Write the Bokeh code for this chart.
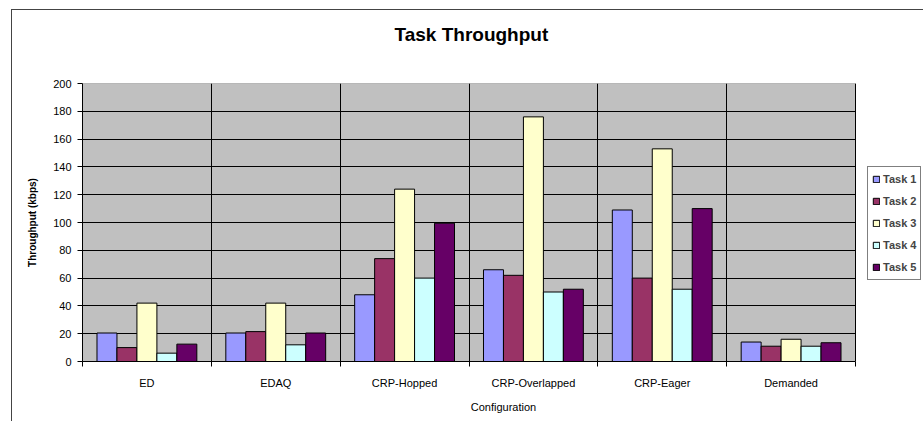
from bokeh.plotting import figure
from bokeh.models import ColumnDataSource, FixedTicker, Legend, LegendItem, Range1d, Title
from bokeh.transform import dodge
from bokeh.embed import file_html
from bokeh.resources import INLINE

categories = ["ED", "EDAQ", "CRP-Hopped", "CRP-Overlapped", "CRP-Eager", "Demanded"]
task1 = [20.5, 20.5, 48, 66, 109, 14]
task2 = [10, 21.5, 74, 62, 60, 11]
task3 = [42, 42, 124, 176, 153, 16]
task4 = [6, 12, 60, 50, 52, 11]
task5 = [12.5, 20.5, 99.5, 52, 110, 13.5]
series_names = ["Task 1", "Task 2", "Task 3", "Task 4", "Task 5"]
series_values = [task1, task2, task3, task4, task5]
colors = ["#9999FF", "#993366", "#FFFFCC", "#CCFFFF", "#660066"]
y_ticks = list(range(0, 201, 20))

FONT = "Liberation Sans"
n = len(categories)
centers = [i + 0.5 for i in range(n)]
bounds = [i for i in range(n + 1)]

# layout (pixels): gray plot area is 773 px wide, frame runs on to the right edge
FIG_W, FIG_H = 912, 412
LEFT, TOP, BOTTOM = 70, 73, 61
PLOT_W = 773
frame_w = FIG_W - LEFT
x_end = n * frame_w / PLOT_W

data = {"x": centers}
for name, vals in zip(series_names, series_values):
    data[name] = vals
source = ColumnDataSource(data)

p = figure(width=FIG_W, height=FIG_H, x_range=Range1d(0, x_end), y_range=Range1d(0, 200),
           output_backend="svg", toolbar_location=None,
           min_border_left=LEFT, min_border_right=0, min_border_top=TOP, min_border_bottom=BOTTOM,
           background_fill_color="white", title="Task Throughput")
p.margin = (9, 0, 0, 11)
p.styles = {"border-left": "1px solid #444444", "border-top": "1px solid #444444"}
p.outline_line_color = None

p.title.align = "left"
p.title.offset = 312
p.title.text_font = FONT
p.title.text_font_size = "19px"
p.title.text_font_style = "bold"
p.title.text_color = "black"
p.title.standoff = 10
p.add_layout(Title(text=" ", text_font_size="12px", standoff=18), "above")

# gray plot area
p.quad(left=0, right=n, bottom=0, top=200, fill_color="#C0C0C0", line_color="#808080",
       level="image")

bw = 0.155
items = []
for k, (name, col) in enumerate(zip(series_names, colors)):
    off = (k - 2) * bw
    r = p.vbar(x=dodge("x", off, range=p.x_range), top=name, width=bw, source=source,
               fill_color=col, line_color="black", line_width=1)
    items.append(LegendItem(label=name, renderers=[r]))

p.xaxis.ticker = FixedTicker(ticks=centers, minor_ticks=bounds)
p.xaxis.bounds = (0, n)
p.xaxis.major_label_overrides = {c: lab for c, lab in zip(centers, categories)}
p.xaxis.major_tick_out = 0
p.xaxis.major_tick_in = 0
p.xaxis.minor_tick_out = 5
p.xaxis.minor_tick_in = 0
p.xaxis.minor_tick_line_color = "black"
p.xaxis.axis_line_color = "black"
p.xaxis.major_label_standoff = 10
p.xaxis.axis_label = "Configuration"
p.xaxis.axis_label_standoff = 9

p.yaxis.ticker = FixedTicker(ticks=y_ticks)
p.yaxis.major_tick_out = 5
p.yaxis.major_tick_in = 0
p.yaxis.major_label_standoff = 6
p.yaxis.axis_label = "Throughput (kbps)"
p.yaxis.axis_label_standoff = 12

for ax in [p.xaxis[0], p.yaxis[0]]:
    ax.major_label_text_font = FONT
    ax.major_label_text_font_size = "11px"
    ax.major_label_text_color = "black"
    ax.axis_label_text_font = FONT
    ax.axis_label_text_font_style = "normal"
    ax.axis_label_text_color = "black"
p.xaxis.axis_label_text_font_size = "11px"
p.yaxis.axis_label_text_font_size = "10px"
p.yaxis.axis_label_text_font_style = "bold"

p.xgrid.grid_line_color = None
p.xgrid.minor_grid_line_color = "black"
p.xgrid.minor_grid_line_alpha = 1
p.xgrid.bounds = (0, 200)

yg = p.ygrid[0]
if "cross_bounds" in yg.properties():
    yg.grid_line_color = "black"
    yg.grid_line_alpha = 1
    yg.cross_bounds = (0, n)
else:
    yg.grid_line_color = None
    p.segment(x0=0, x1=n, y0=y_ticks, y1=y_ticks, line_color="black", line_width=1,
              level="underlay")

legend = Legend(items=items, location=(PLOT_W + 12, 81), orientation="vertical",
                border_line_color="black", border_line_width=1,
                background_fill_color="white", background_fill_alpha=1,
                label_text_font=FONT, label_text_font_size="11px", label_text_font_style="bold",
                glyph_width=8, glyph_height=8, label_height=16, label_standoff=3,
                spacing=6, padding=4, margin=0)
p.add_layout(legend, "center")

open("out.html", "w").write(file_html(p, INLINE))
